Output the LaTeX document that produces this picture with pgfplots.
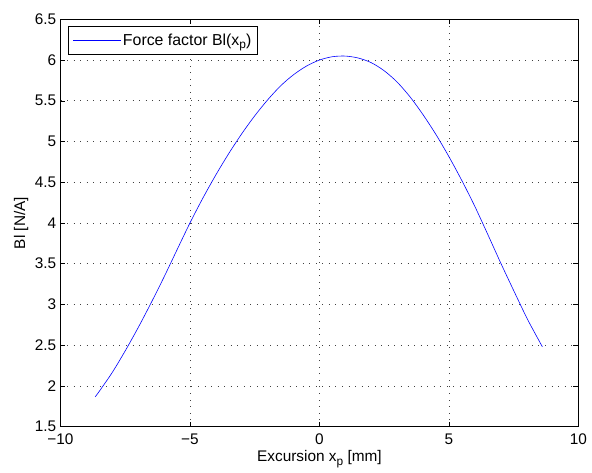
\documentclass[border=0pt]{standalone}
\usepackage{fontspec}
\setmainfont{Liberation Sans}
\usepackage{pgfplots}
\pgfplotsset{compat=1.18}
\newcommand{\lowsub}[1]{\raisebox{-0.45ex}{\fontsize{12}{14}\selectfont #1}}
\begin{document}
\fontsize{15.5}{18}\selectfont
\begin{tikzpicture}
\begin{axis}[
  scale only axis,
  width=522pt, height=410.5pt,
  xmin=-10, xmax=10, ymin=1.5, ymax=6.5,
  xtick={-10,-5,0,5,10},
  xticklabels={−10,−5,0,5,10},
  ytick={1.5,2,2.5,3,3.5,4,4.5,5,5.5,6,6.5},
  /pgf/number format/assume math mode=true,
  tick label style={font=\fontsize{15.5}{18}\selectfont},
  label style={font=\fontsize{15.5}{18}\selectfont},
  xticklabel style={yshift=-2pt},
  yticklabel style={xshift=1pt},
  tick align=inside,
  tick pos=both,
  major tick length=5pt,
  axis line style={line width=0.8pt},
  every tick/.style={black, line width=0.5pt},
  grid=major,
  major grid style={black!75, line width=0.6pt, dash pattern=on 0.8pt off 5.8pt},
  xlabel={Excursion x\lowsub{p} [mm]},
  ylabel={Bl [N/A]},
  xlabel style={yshift=5pt},
  ylabel style={yshift=-4pt},
  legend style={at={(0.0153,0.983)}, anchor=north west, draw=black, line width=0.8pt,
    font=\fontsize{16}{18}\selectfont, inner xsep=4pt, inner ysep=5pt, row sep=0pt},
  legend cell align=left,
  legend image code/.code={\draw[#1, line width=0.6pt] (0pt,0pt) -- (48pt,0pt);},
]
\addplot[color={rgb,255:red,0;green,0;blue,255}, line width=0.6pt, smooth] coordinates {
(-8.66,1.865) (-8.5,1.934) (-8,2.165) (-7.5,2.43) (-7,2.715) (-6.5,3.019) (-6,3.337)
(-5.5,3.67) (-5,4.0) (-4.5,4.306) (-4,4.59) (-3.5,4.853) (-3,5.095) (-2.5,5.315)
(-2,5.511) (-1.5,5.683) (-1,5.82) (-0.5,5.926) (0,6.0) (0.5,6.041) (1,6.049)
(1.5,6.025) (2,5.968) (2.5,5.869) (3,5.73) (3.5,5.548) (4,5.33) (4.5,5.086)
(5,4.815) (5.5,4.521) (6,4.205) (6.5,3.861) (7,3.51) (7.5,3.172) (8,2.84)
(8.3,2.66) (8.61,2.48)
};
\addlegendentry{Force factor Bl(x\lowsub{p})}
\end{axis}
\path ([xshift=-61pt,yshift=-46pt]current axis.south west) rectangle ([xshift=9pt,yshift=19.5pt]current axis.north east);
\end{tikzpicture}
\end{document}
